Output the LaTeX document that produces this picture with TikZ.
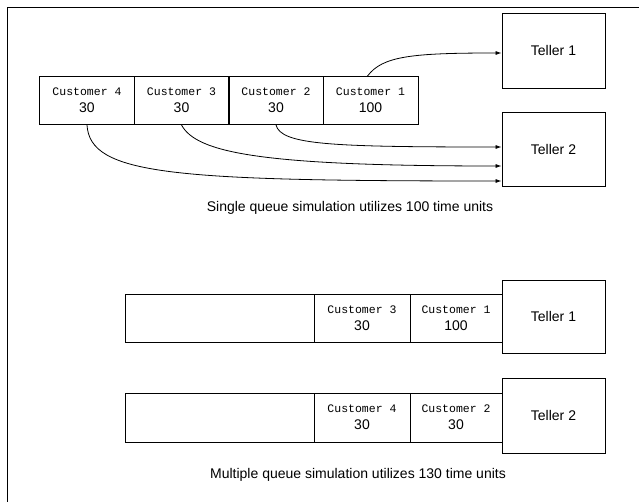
\documentclass[tikz,border=0pt]{standalone}
\usepackage{fontspec}
\setmainfont{Liberation Sans}
\setmonofont{Liberation Mono}
\usetikzlibrary{arrows.meta}
\tikzstyle{box}=[draw,line width=.9pt,inner sep=0pt]
\tikzstyle{cust}=[box,minimum width=95pt,minimum height=48pt,align=center,font=\fontsize{14}{17}\selectfont]
\tikzstyle{teller}=[box,minimum width=103pt,font=\fontsize{14}{17}\selectfont]
\tikzstyle{caption}=[font=\fontsize{14}{16}\selectfont]
\tikzstyle{arr}=[line width=.8pt,-{Latex[length=6pt,width=4pt]}]
\newcommand{\custname}[1]{{\ttfamily\fontsize{11.5}{17}\selectfont #1}}

\begin{document}
\begin{tikzpicture}[x=1pt,y=-1pt]
  \useasboundingbox (0,0) rectangle (639,502);
  \draw[line width=.9pt] (7,502) -- (7,7) -- (639,7);

  % single queue
  \foreach \n/\t [count=\k] in {4/30,3/30,2/30,1/100}{
    \node[cust] (s\n) at (-7.5+94.5*\k,100.5) {\custname{Customer \n}\\\t};
  }
  \node[teller,minimum height=75pt] (t1) at (553.5,50.5) {Teller 1};
  \node[teller,minimum height=74pt] (t2) at (553.5,149) {Teller 2};

  \draw[arr] ([xshift=-3pt]s1.north) .. controls +(15,-20) and +(-90,0) .. ([yshift=-2.5pt]t1.west);
  \draw[arr] (s2.south) .. controls +(5,20) and +(-170,0) .. ([yshift=2pt]t2.west);
  \draw[arr] (s3.south) .. controls +(15,28) and +(-240,0) .. ([yshift=-17pt]t2.west);
  \draw[arr] (s4.south) .. controls +(3,50) and +(-330,0) .. ([yshift=-32pt]t2.west);

  \node[caption] (cap1) at (350,208) {Single queue simulation utilizes 100 time units};

  % multiple queues
  \node[box,minimum width=189pt,minimum height=48pt] (q1) at (219.5,318) {};
  \node[cust,minimum width=96pt] (m3) at (362,318) {\custname{Customer 3}\\30};
  \node[cust,minimum width=92pt] (m1) at (456,318) {\custname{Customer 1}\\100};
  \node[teller,minimum height=73pt] (b1) at (553.5,316.5) {Teller 1};

  \node[box,minimum width=189pt,minimum height=49pt] (q2) at (219.5,417.5) {};
  \node[cust,minimum width=96pt,minimum height=49pt] (m4) at (362,417.5) {\custname{Customer 4}\\30};
  \node[cust,minimum width=92pt,minimum height=49pt] (m2) at (456,417.5) {\custname{Customer 2}\\30};
  \node[teller,minimum height=75pt] (b2) at (553.5,415.5) {Teller 2};

  \node[caption] (cap2) at (358,475) {Multiple queue simulation utilizes 130 time units};
\end{tikzpicture}
\end{document}
